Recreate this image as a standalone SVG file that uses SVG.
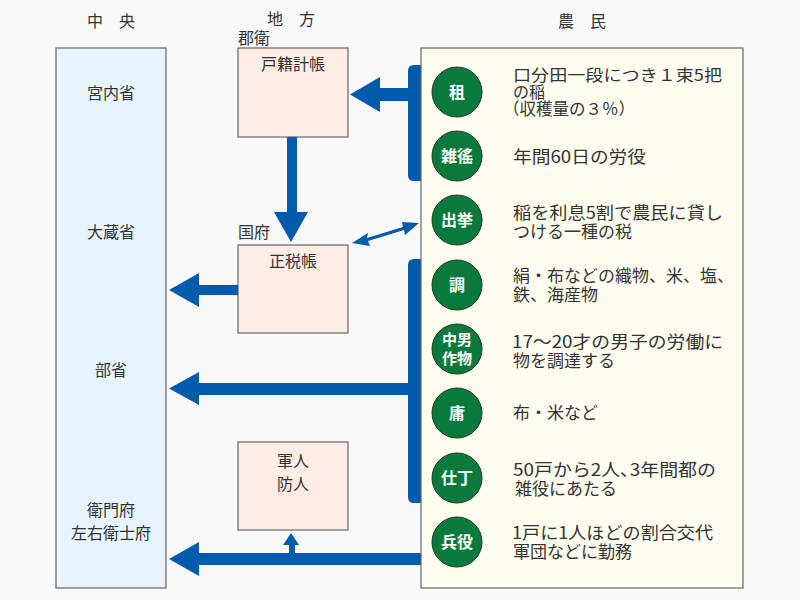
<svg xmlns="http://www.w3.org/2000/svg" width="800" height="600" viewBox="0 0 800 600">
<style>
text{font-family:"Noto Sans CJK JP","Noto Sans CJK SC",sans-serif;fill:#333;font-size:16px}
.box{stroke:#666;stroke-width:1.2}
.c circle{fill:#0a7a3c;stroke:#1a3a22;stroke-width:1}
.c text{fill:#fff;font-size:16px;font-weight:bold;text-anchor:middle}
.d{font-size:17px}
.s{font-size:16px}
.arr{fill:#005bac}
.h{font-size:16px;text-anchor:middle}
</style>
<rect width="800" height="600" fill="#f9f9f9"/>
<text class="h" x="111" y="27">中　央</text>
<text class="h" x="291" y="25">地　方</text>
<text x="238" y="44" style="font-size:16px">郡衛</text>
<text x="238" y="238" style="font-size:16px">国府</text>
<text class="h" x="582" y="27">農　民</text>

<g id="central">
<rect class="box" x="56" y="48" width="110" height="540" fill="#e8f4fd"/>
<text class="h" x="111" y="99">宮内省</text>
<text class="h" x="111" y="238">大蔵省</text>
<text class="h" x="111" y="376">部省</text>
<text class="h" x="111" y="516">衛門府</text>
<text class="h" x="111" y="539">左右衛士府</text>
</g>

<g id="koseki">
<rect class="box" x="238" y="48" width="110" height="89" fill="#fdede5"/>
<text class="h" x="293" y="70">戸籍計帳</text>
</g>
<g id="shozei">
<rect class="box" x="238" y="245" width="110" height="88" fill="#fdede5"/>
<text class="h" x="293" y="267">正税帳</text>
</g>
<g id="gunjin">
<rect class="box" x="238" y="442" width="110" height="88" fill="#fdede5"/>
<text class="h" x="293" y="467">軍人</text>
<text class="h" x="293" y="490">防人</text>
</g>

<g id="connectors" class="arr">
<path d="M421,65 H414 Q408,65 408,71 V175 Q408,181 414,181 H421 Z"/>
<path d="M408,88 V101 H380 V112 L350,94.5 L380,77 V88 Z"/>
<path d="M287,137 H297 V212 H308 L291,242 L274,212 H287 Z"/>
<path d="M352,243 L368,233 L367,238 L403,227 L402,222 L419,223 L405,235 L404,230 L368,241 L370,246 Z"/>
<path d="M238,285 V295 H199 V307 L169,290 L199,273 V285 Z"/>
<path d="M421,259 H414 Q408,259 408,265 V497 Q408,503 414,503 H421 Z"/>
<path d="M408,383 V395 H199 V405 L169,388.5 L199,372 V383 Z"/>
<path d="M421,553 V565 H199 V576 L169,559 L199,542 V553 H289 V545 H283 L291,533 L299,545 H295 V553 Z"/>
</g>

<g id="farmers">
<rect class="box" x="421" y="48" width="322" height="540" fill="#fffdf0"/>
</g>

<g id="so" class="c"><circle cx="457" cy="92" r="25"/><text x="457" y="98">租</text></g>
<text class="s" x="513" y="81" textLength="209" lengthAdjust="spacingAndGlyphs">口分田一段につき１束5把</text>
<text class="s" x="513" y="98">の稲</text>
<text x="503" y="115" style="font-size:16.5px">（収穫量の３％）</text>

<g id="zoyo" class="c"><circle cx="457" cy="156" r="25"/><text x="457" y="162">雑徭</text></g>
<text class="d" x="513" y="163" textLength="133" lengthAdjust="spacingAndGlyphs">年間60日の労役</text>

<g id="suiko" class="c"><circle cx="457" cy="220" r="25"/><text x="457" y="226">出挙</text></g>
<text class="d" x="513" y="219" textLength="210" lengthAdjust="spacingAndGlyphs">稲を利息5割で農民に貸し</text>
<text class="d" x="513" y="238">つける一種の税</text>

<g id="cho" class="c"><circle cx="457" cy="285" r="25"/><text x="457" y="291">調</text></g>
<text class="d" x="513" y="282">絹・布などの織物、米、塩、</text>
<text class="d" x="513" y="301">鉄、海産物</text>

<g id="chunan" class="c"><circle cx="457" cy="349" r="25"/><text x="457" y="345" style="font-size:15px">中男</text><text x="457" y="364" style="font-size:15px">作物</text></g>
<text class="d" x="512" y="348" textLength="211" lengthAdjust="spacingAndGlyphs">17～20才の男子の労働に</text>
<text class="d" x="513" y="367">物を調達する</text>

<g id="yo" class="c"><circle cx="457" cy="413" r="25"/><text x="457" y="419">庸</text></g>
<text class="d" x="513" y="419">布・米など</text>

<g id="shicho" class="c"><circle cx="457" cy="478" r="25"/><text x="457" y="484">仕丁</text></g>
<text class="d" x="513" y="476" textLength="203" lengthAdjust="spacingAndGlyphs">50戸から2人､3年間都の</text>
<text class="d" x="515" y="495">雑役にあたる</text>

<g id="heieki" class="c"><circle cx="457" cy="542" r="25"/><text x="457" y="548">兵役</text></g>
<text class="d" x="512" y="539" textLength="201" lengthAdjust="spacingAndGlyphs">1戸に1人ほどの割合交代</text>
<text class="d" x="513" y="558">軍団などに勤務</text>
</svg>
